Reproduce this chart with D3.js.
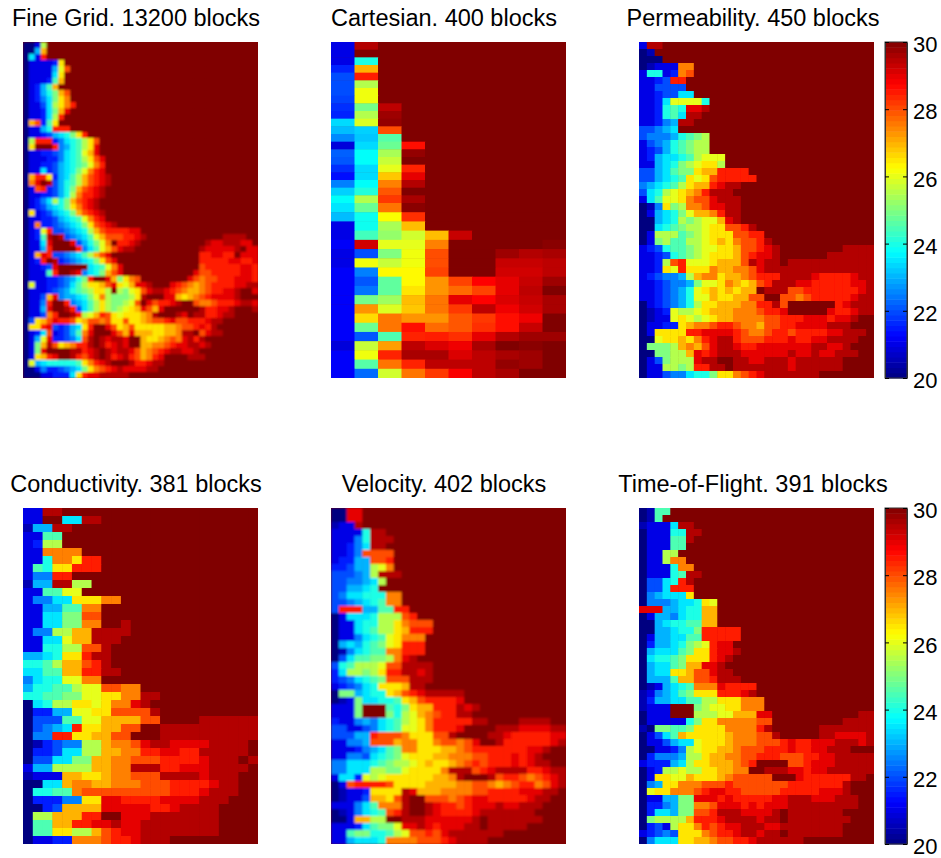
<!DOCTYPE html>
<html>
<head>
<meta charset="utf-8">
<script src="https://cdnjs.cloudflare.com/ajax/libs/d3/7.8.5/d3.min.js"></script>
<style>
  body { margin: 0; background: #fff; }
  text { font-family: "Liberation Sans", Arial, sans-serif; fill: #000; }
</style>
</head>
<body>
<div id="chart"></div>
<script>

    // one letter per cell, a = 20 ... u = 30 in steps of 0.5, spaces only help counting.
    // rows that stop early carry on at 30.
    var levelChars = "abcdefghijklmnopqrstu";

    var panelTitles = ["Fine Grid. 13200 blocks", "Cartesian. 400 blocks", "Permeability. 450 blocks",
                       "Conductivity. 381 blocks", "Velocity. 402 blocks", "Time-of-Flight. 391 blocks"];
    var colorTicks = [20, 22, 24, 26, 28, 30];

    var fineGridRows = [
      "aaclu", "aagou", "ahcru", "accccdnu", "accccgmqu", "acccchnu", "acccdjou", "acdgjou",
      "acdgikoqu", "acdfhknpu", "accehlnpru", "accdhkosu", "accdhlru", "aoqdjnu", "accgirrru", "accdeghi knru",
      "alrrrdfhij lnqu", "anuuurfgij lnsu", "accddefhij mosu", "acccddfhij lnqsu", "accddeghij kmpru",
      "acchdeghik mprsu", "aorrndghjl oqrstu", "apsutegijl oqrstu", "acqrdegiko qrstu", "accddegilp rrstu",
      "acdfhlikoq rstu", "acdeghiknp rstu", "ancdeghiko qrstu", "accddeghij mprsu", "acpddefghi knqrstu",
      "acdmreefgh iloqrrrrss",
      "acdjtutefg hjmoqqqrrs tuuuuuuuuu uuuuttttuu",
      "acchsuuuse gikmpurrst uuuuuuuuuu utsstttssu",
      "accgruuuur fhjmoqsttu uuuuuuuuuu tssssstuss",
      "acosreefgh jloqsuuuuu uuuuuuuuuu rrssrrusss",
      "acdrutdefg hiknqsuuuu uuuuuuuuuu rrrrrssrrs",
      "accdesuuuu uhijmpsuuu uuuuuuuuuu qrrrrrrssr",
      "acccjruuts fhikoqsuuu uuuuuuuuus qqrrrrrssr",
      "acccddefgi kruusoknpq uuuuuuuusq pqqrrrsssr",
      "amccddefhj lnnoqsnmos stuuusrqpo pqrrrrsstt",
      "acccdefgij klnnlulkmn qsttsrqpoo pqrrsstuus",
      "acceosfggh ikmplkkkln tuuussonop qrsssstuuu",
      "accfruurfg hjlnlkklmq usqrrstuuq ppqrrrstts",
      "accgsuutre hjlnlklmno sqosuuuuuu trrsstuuut",
      "accepruutr lmorqnmnnn optuuutsut trrsttuuuu",
      "aenoqsrrqn oqqpqnnqnn opqqrsqqrr rsttuuuuuu",
      "annrsedegh nruusqnoqn nnnnoopqqr srtuuuuuuu",
      "acdhqcdegj psuuusqoso oonnoopttu qsttuuuuuu",
      "acgmsddefh qtutsttsuu onnopqpstr tuuuuuuuuu",
      "ackotqnopr rtutrstsuu ooppqrsstt stuuuuuuuu",
      "acksuuuutt rstutsttsq opqrsttsst uuuuuuuuuu",
      "acnorsuutr qstutrstrq oprsuuuutt tuuuuuuuuu",
      "amghiiiiij nprstuuutr rsttuuuuuu uuuuuuuuuu",
      "aacfddefgh knpqrstsss sttuuuuuuu uuuuuuuuuu",
      "aaaccdddhn rsstttttuu uuuuuuuuuu uuuuuuuuuu"
    ];

    // the Cartesian model is small enough to read cell by cell
    var cartesianRows = [
      [21, 29.5], [21, 30], [21, 24], [21.6, 27], [22, 28.5], [22, 25.5], [22, 26.1], [21.9, 26.1],
      [21.7, 24.9, 29.4], [21.6, 25.5, 29.7], [23.4, 25.9, 29.8], [23.1, 23.3, 28], [22.6, 23.2, 24.6],
      [20.9, 23.4, 24.8, 28.6], [22.2, 23.8, 25.4, 29.8], [22.1, 23.8, 25.7, 30], [21.7, 23.4, 26, 28.4],
      [21.4, 23.4, 26.8, 29], [22.5, 23.8, 27.5, 29.5], [23.3, 24.1, 27.9, 30], [23.8, 25.5, 28.2, 29.6],
      [23.5, 24.8, 27.6, 29.9], [23.1, 23.9, 26.2, 28.3], [21, 23.9, 25.4, 26.9],
      [21, 24.4, 25.2, 25.8, 26.9, 29.3],
      [21.2, 29.2, 26, 26, 27.5, 30, 30, 30, 30, 29.9],
      [21, 22, 25, 26.1, 28, 30, 30, 29.7, 29.5, 29.6],
      [21, 26.1, 25.7, 26.1, 28, 30, 30, 29.3, 29.3, 29.4],
      [21.2, 22.5, 26.3, 26.3, 28.1, 30, 30, 29.2, 29.2, 29.4],
      [21.2, 22.1, 24.7, 26.3, 27.3, 28.1, 28.7, 29, 29.3, 29.7],
      [21.2, 22.4, 24.7, 26.5, 27.3, 27.7, 28.1, 29, 29.4, 30],
      [21.2, 24.9, 25.3, 26.9, 27.6, 29, 28.7, 29.1, 29.3, 29.6],
      [21.2, 27.3, 25.9, 26.8, 27.6, 28.2, 29.4, 28.9, 29.2, 29.6],
      [21.2, 26.6, 27.6, 27.3, 27.3, 27.9, 28.2, 28.6, 28.9, 30],
      [21.2, 24.8, 27.6, 28.6, 27.7, 27.9, 28.3, 28.6, 29.3, 30],
      [21.2, 22.1, 24.5, 28.4, 28.5, 28.3, 29, 29.5, 29.7, 29.7],
      [20.9, 25.7, 27.2, 29.4, 29.1, 28.9, 29.6, 30, 29.9, 30],
      [21.2, 26.1, 28.4, 29.6, 29.6, 29.1, 29.4, 29.6, 29.7, 30],
      [21.2, 24.6, 27.6, 28.4, 29.4, 29.4, 29.4, 29.8, 29.7, 30],
      [21.2, 22.3, 25.8, 27.6, 28.2, 28.8, 29.4, 29.6, 30, 30]
    ];

    var permeabilityRows = [
      "cttu", "abu", "aaau", "abcccppu", "ciicdpqu", "ccderru", "cceeeeu", "ccdeehhu",
      "ccdhmmmmiu", "ccdijisstu", "ccdijhttu", "ccdfgttu", "eefghu", "efffgijklu", "cefgijkllu", "cdegijkllu",
      "cdghhijlmm mu", "ccghiklmnn lu", "eeghjkknoo rrrru", "eeghijnmnq rrrrru", "fghijlnoor sttu",
      "ehilmnoprt ttu", "chjmmnpqqs tttu", "abfnklppqs sttu", "acghikmoop rttu", "aaghilklmm ostu",
      "aahijkllmn nqqrtu", "aclll jklmn nnqqrru", "acklj jllmn onpqqrtu",
      "cdeijjklmm nnoqqrstuu uuuuuutttt",
      "ccdeijklmn nnoqrsstuu uuuutttttt",
      "ccdlqrmmmn oooqtsttut tttttttttt",
      "ccdnmrnnnp ooppqstttt tttttttttt",
      "cdeffglopp noopqrrrtt ttsrrrrstt",
      "ccdeffgkmm nponoqrttt ssrrrrrsst",
      "ccdefgimno nonooutttq qrrrrrrrst",
      "ccdefgimmo nnooqquuqq pqrrrrrstt",
      "acdefgilnn ooopprrtqu uuuuursttt",
      "abcdmllmno oopppqrrsu uuuusrrstt",
      "abccmnmlmn ooppppqqrr rsssrsstuu",
      "accddnoppq rrqppoqqrr sssstttuuu",
      "acnnnnrrss ssrqppqrrq rrrrsstttu",
      "aamnnonprs ttrqqqrrrs rrssttttuu",
      "akkklopoqs ttsrrsssss ssttsstuuu",
      "aakkllosrs tttsssssst sstsstttuu",
      "aceklllstt uuttssttts ttttttuuuu",
      "accllklrrt tuttttttts ttttttuuuu",
      "acceffhiik nnpqrstttt tttuuuuuuu"
    ];

    var conductivityRows = [
      "ccttu", "ccuuhhttu", "bggttu", "ccjju", "cdllu", "ccppppu", "ccippnrru", "cjinnrrru",
      "cffrru", "bggttllu", "ccjjmmu", "cffhhnnnpp u", "ccggjjppu", "cchhkkqqu", "cchhkkppuu tu", "cfflloottt tu",
      "cchhmoottt u", "cciillqqtu", "gghinnrttu", "iijlooqrtu", "hhjjoorrtt u",
      "fhiimmppu", "giijjlmmqq ppu", "iijjkkmmnn pptt", "ahillnnmnp pstuu", "addggmmnnq qqqtu",
      "aeeejjmmoo ooqquuuutt tttt",
      "aefghrnnoo qquutttttt tttt",
      "affrrnnooq quuutttttt tttt",
      "abdeffllop pqsttsssst tttu",
      "addehhlloo pprrssrrtt tttu",
      "aeehhkkoop pqqqrrrrst ttut",
      "cgglllloop ptttrrssst tttu",
      "bcccoonnop pqqqttttst ttuu",
      "aahhoppoop ppqqqrrrrs ttuu",
      "aiijjpqqqq qqqqqrrrst ttuu",
      "adddffnnss rrrrsssstt tuuu",
      "aadeooooss sssrrstttt uuuu",
      "allooorruu sssttttttt uuuu",
      "ajjoorrsst sstttttttt uuuu",
      "ajjnnlloqr sstttttttt uuuu",
      "accddpppqr rstttuuuuu uuuu"
    ];

    var velocityRows = [
      "aassu", "aassu", "bcctu", "ccccittu", "cccfitttu", "ccdfhttu", "ccdfqqqqu", "cddggqqru",
      "ddegglmpu", "eeefgltttu", "eeffghlu", "eegghiu", "efhhiiippu", "eefghijppu", "errrggjjrr u", "achhhilllq ru",
      "acchiilln pqqqu", "acchijllno rrru", "accfhijmnp ppu", "aghgijkmnr rru", "abfhijjppr rru", "aehjjkklps tu",
      "eijlllmqqt tttu", "dhllklnrrt tstu", "defhijkqqq tttu", "cdefhinnno ttu",
      "akkghiinoq rstttttu", "abckhhiijn oqrrrrsu", "ccckuuujik noorrrtstu", "ccckuuukil mopqrrttuu",
      "dccfgfhijl mnprrrrrtt uuuuttttuu",
      "eeccefhijm mnprrrsuuu utttsssstt",
      "eeeggrqqqp nnnqqtuuuu ttsrrrrrss",
      "ccffgqqqop pnnpqqpqsu utrrrrrrst",
      "cccdfghjkp pnnnoopqrr rrrrrsstuu",
      "ccffehijkm nnnoopppqq rrrsrstuuu",
      "ffhhhijkll mnonnopqrq rrrsrsttuu",
      "ffhhhllkkm nnnnptttqr sttttrrstt",
      "chhdmlmnnn nnnooptuuu tqrrqpqrst",
      "acqrrrrqnn nnooooppqq popqrrpqst",
      "abccdnnnnt soooppppqq rrrrsssttu",
      "abcceoonqt uuqqqpqrss rrrrrsttuu",
      "cccfhjpppt uutsrrqrss stsstttuuu",
      "abcfhijqrt uutsrrrrst ttttttuuuu",
      "aacoolluut ttsssssstu tttttttuuu",
      "cccdhjkkms stsrsssttu tttttuuuuu",
      "ccjkkiijlm qqrqsttttt ttuuuuuuuu",
      "ccghhhippp pqqqrsttt tuuuuuuuuu"
    ];

    var timeOfFlightRows = [
      "abjju", "abju", "bccchttu", "accciittu", "acccjjtu", "acccjju", "accllu", "acclppu",
      "acccippu", "acccijttu", "aeehirtu", "aeehrrru", "afghhhnu", "afffghhinm u", "sssgghiioo u", "acggfhiioo u",
      "aaghiijjoo u", "aagghiikrr rrru", "acgghhjjrr rrru", "adgghiklmr ssu", "aghhhjknnr sstu", "ahiijknnnr stu",
      "aghhjkoo ss tu", "aghhnnoqqs ttu", "agggjooqqr tttu", "abcghijppp srrrru",
      "bcfghjknnn rrrstu", "bdgghhjjll nnnpppu", "bcccuuuklm mnnpppu",
      "acccuuulll mmooossuuu uuuuuuuutt",
      "accccciknn pppppqquuu uuuuuutttt",
      "bakkjjknnn npppprtuuu uuuttttttt",
      "acehjonnnn nopppqqtuu uuuttsssst",
      "acceghhmnn nopppqqqrs rrssstttst",
      "aaccdflmnn oopqqqrrrs rrsstttuuu",
      "adfffgllno oppqqrrrqq qrrsstttttt",
      "cdddghlnno oopqruuuuq qrsssttttt",
      "acdllmllnn ooppuuttts srsstttttt",
      "acnnmmonnn opqqqqquuu srrrrrrttu",
      "afgnnpppqq qrqqqqqqqr rrrrrrtuuu",
      "amnnpppqrs srrqqqqqrr rrrssstuuu",
      "accggkksss rsrrrrrsst ttssstttuu",
      "addfgkkppq sssrsrssst ttttttttuu",
      "adhhgkkqqr tttsssstut ttttttuuuu",
      "akllllorrr sttttsttut tttttttuuu",
      "adeclnnprq rsstttsstt ttttttuuuu",
      "cdefennnpq rrsttsttut ttttttuuuu",
      "afhhhnnoop qqrrstttt ttuuuuuuuu"
    ];

    //=========================================================================
    // Set Dimensions
    //=========================================================================
    var width = 941,
        height = 858,
        panelWidth = 235,
        panelHeight = 336,
        colLeft = [23, 331, 639],
        rowTop = [42, 508],
        titleX = [136, 444, 753],
        titleY = [26, 492],
        barLeft = 885,
        barWidth = 22;

    var panelData = [
      { rows: fineGridRows, cols: 40, blur: 1.1 },
      { rows: cartesianRows, cols: 10, blur: 0.4 },
      { rows: permeabilityRows, cols: 30, blur: 0.7 },
      { rows: conductivityRows, cols: 24, blur: 0.6 },
      { rows: velocityRows, cols: 30, blur: 0.8 },
      { rows: timeOfFlightRows, cols: 30, blur: 0.7 }
    ];

    // matlab jet
    var jet = d3.scaleLinear()
      .domain([20, 21.25, 23.75, 26.25, 28.75, 30])
      .range(["#000080", "#0000ff", "#00ffff", "#ffff00", "#ff0000", "#800000"])
      .clamp(true);

    function rowValues(row, cols) {
      var values = typeof row === "string"
        ? row.replace(/ /g, "").split("").map(function(c) { return 20 + levelChars.indexOf(c) / 2; })
        : row.slice();
      while (values.length < cols) values.push(30);
      return values.slice(0, cols);
    }

    var svg = d3.select("#chart")
      .append("svg")
      .attr("width", width)
      .attr("height", height);

    var defs = svg.append("defs");

    //=========================================================================
    // Panels
    //=========================================================================
    panelData.forEach(function(panel, p) {
      var left = colLeft[p % 3],
          top = rowTop[Math.floor(p / 3)],
          nRows = panel.rows.length;

      var x = d3.scaleLinear().domain([0, panel.cols]).range([left, left + panelWidth]);

      // the Cartesian rows are shorter in the top half of the picture
      var y = p === 1
        ? d3.scaleLinear().domain([0, 21, nRows]).range([top, top + 161, top + panelHeight])
        : d3.scaleLinear().domain([0, nRows]).range([top, top + panelHeight]);

      var cells = [];
      panel.rows.forEach(function(row, r) {
        rowValues(row, panel.cols).forEach(function(v, c) {
          cells.push({ r: r, c: c, v: v });
        });
      });

      defs.append("clipPath").attr("id", "clip" + p)
        .append("rect")
        .attr("x", left).attr("y", top)
        .attr("width", panelWidth).attr("height", panelHeight);

      var filter = defs.append("filter").attr("id", "soft" + p)
        .attr("filterUnits", "userSpaceOnUse")
        .attr("x", left - 10).attr("y", top - 10)
        .attr("width", panelWidth + 20).attr("height", panelHeight + 20);
      filter.append("feGaussianBlur").attr("stdDeviation", panel.blur);

      var gDrawing = svg.append("g").attr("clip-path", "url(#clip" + p + ")");

      // dark backing so the blur does not pull the edges towards white
      gDrawing.append("rect")
        .attr("x", left).attr("y", top)
        .attr("width", panelWidth).attr("height", panelHeight)
        .attr("fill", jet(30));

      gDrawing.append("g")
        .attr("filter", "url(#soft" + p + ")")
        .selectAll("rect")
        .data(cells)
        .enter()
        .append("rect")
        .attr("x", function(d) { return x(d.c); })
        .attr("y", function(d) { return y(d.r); })
        .attr("width", function(d) { return x(d.c + 1) - x(d.c) + 0.5; })
        .attr("height", function(d) { return y(d.r + 1) - y(d.r) + 0.5; })
        .attr("fill", function(d) { return jet(d.v); });

      svg.append("text")
        .attr("x", titleX[p % 3])
        .attr("y", titleY[Math.floor(p / 3)])
        .attr("text-anchor", "middle")
        .attr("font-size", 23.5)
        .text(panelTitles[p]);
    });

    //=========================================================================
    // Colorbars
    //=========================================================================
    var bands = d3.range(64).map(function(i) { return 20 + i * 10 / 64; });

    rowTop.forEach(function(top) {
      var scale = d3.scaleLinear().domain([20, 30]).range([top + panelHeight, top]);
      var bar = svg.append("g");

      bar.selectAll("rect")
        .data(bands)
        .enter()
        .append("rect")
        .attr("x", barLeft)
        .attr("y", function(d) { return scale(d + 10 / 64); })
        .attr("width", barWidth)
        .attr("height", function(d) { return scale(d) - scale(d + 10 / 64) + 0.5; })
        .attr("fill", function(d) { return jet(d + 5 / 64); });

      bar.append("rect")
        .attr("x", barLeft).attr("y", top)
        .attr("width", barWidth).attr("height", panelHeight)
        .attr("fill", "none").attr("stroke", "#333");

      var rightAxis = bar.append("g")
        .attr("transform", "translate(" + (barLeft + barWidth) + ",0)")
        .call(d3.axisRight(scale).tickValues(colorTicks).tickSizeInner(-4).tickSizeOuter(0).tickPadding(6));
      rightAxis.selectAll("text")
        .attr("font-size", 22)
        .attr("dy", "0.44em")
        .attr("font-family", null);

      bar.append("g")
        .attr("transform", "translate(" + barLeft + ",0)")
        .call(d3.axisLeft(scale).tickValues(colorTicks).tickSizeInner(-4).tickSizeOuter(0).tickFormat(""));

      bar.selectAll(".domain").attr("stroke", "#333");
    });

</script>
</body>
</html>
